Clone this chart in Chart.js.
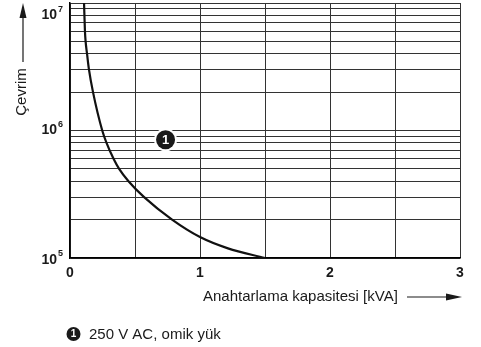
<!DOCTYPE html>
<html>
<head>
<meta charset="utf-8">
<script src="https://cdn.jsdelivr.net/npm/chart.js@4"></script>
<style>
  body { margin: 0; background: #fff; }
  canvas { display: block; }
</style>
</head>
<body>
<canvas id="myChart" width="481" height="347"></canvas>
<script>
// curve: switching capacity [kVA] vs cycles
var capacity = [0.108, 0.115, 0.12, 0.131, 0.146, 0.177, 0.248, 0.281, 0.335, 0.378, 0.45, 0.57, 0.785, 1.0, 1.215, 1.5];
var cycles = [1e7, 6e6, 5e6, 4e6, 3e6, 2e6, 1e6, 8e5, 6e5, 5e5, 4e5, 3e5, 2e5, 1.46e5, 1.19e5, 1e5];
var xTicks = [0, 1, 2, 3];
var yExps = [5, 6, 7];
var markerAt = [0.735, 8.45e5];
var yTitle = "Çevrim";
var xTitle = "Anahtarlama kapasitesi [kVA]";
var legendText = "250 V AC, omik yük";

var FONT = "'Liberation Sans', Arial, sans-serif";
var INK = "#1a1a1a";

function badge(ctx, x, y, r, fs){
  ctx.beginPath(); ctx.arc(x, y, r + 2, 0, Math.PI*2); ctx.fillStyle = "#fff"; ctx.fill();
  ctx.beginPath(); ctx.arc(x, y, r, 0, Math.PI*2); ctx.fillStyle = INK; ctx.fill();
  ctx.fillStyle = "#fff"; ctx.font = "bold " + fs + "px " + FONT;
  ctx.textAlign = "center"; ctx.textBaseline = "middle";
  ctx.fillText("1", x, y + 0.5);
}

var decor = {
  id: "decor",
  afterDraw: function(chart){
    var ctx = chart.ctx, xs = chart.scales.x, ys = chart.scales.y, a = chart.chartArea;
    ctx.save();
    ctx.fillStyle = INK;
    // x tick labels
    ctx.font = "bold 14px " + FONT; ctx.textAlign = "center"; ctx.textBaseline = "middle";
    xTicks.forEach(function(v){ ctx.fillText(String(v), xs.getPixelForValue(v), 273); });
    // y tick labels 10^n
    yExps.forEach(function(e){
      var py = Math.max(ys.getPixelForValue(Math.pow(10, e)), a.top + 12.5);
      if (e == 5) py += 2;
      ctx.font = "bold 14px " + FONT; ctx.textAlign = "right"; ctx.textBaseline = "middle";
      ctx.fillText("10", 57, py);
      ctx.font = "bold 9px " + FONT; ctx.textAlign = "left";
      ctx.fillText(String(e), 58, py - 6);
    });
    // y title + arrow
    ctx.save();
    ctx.translate(22, 92); ctx.rotate(-Math.PI/2);
    ctx.font = "15px " + FONT; ctx.textAlign = "center"; ctx.textBaseline = "middle";
    ctx.fillText(yTitle, 0, 0);
    ctx.restore();
    ctx.strokeStyle = INK; ctx.lineWidth = 1.2;
    ctx.beginPath(); ctx.moveTo(23, 62); ctx.lineTo(23, 16); ctx.stroke();
    ctx.beginPath(); ctx.moveTo(23, 3); ctx.lineTo(19.5, 18); ctx.lineTo(26.5, 18); ctx.closePath(); ctx.fill();
    // x title + arrow
    ctx.font = "15px " + FONT; ctx.textAlign = "left"; ctx.textBaseline = "middle";
    ctx.fillText(xTitle, 203, 297);
    ctx.beginPath(); ctx.moveTo(407, 297); ctx.lineTo(450, 297); ctx.stroke();
    ctx.beginPath(); ctx.moveTo(462, 297); ctx.lineTo(446, 293.5); ctx.lineTo(446, 300.5); ctx.closePath(); ctx.fill();
    // marker on curve
    badge(ctx, xs.getPixelForValue(markerAt[0]), ys.getPixelForValue(markerAt[1]), 9.5, 13);
    // legend
    badge(ctx, 73.5, 334, 7, 10);
    ctx.fillStyle = INK; ctx.font = "15px " + FONT; ctx.textAlign = "left"; ctx.textBaseline = "middle";
    ctx.fillText(legendText, 89, 334.5);
    ctx.restore();
  }
};

var charts = document.querySelector("#myChart").getContext('2d');
new Chart(charts, {
  type: 'line',
  data: {
    datasets: [{
      data: capacity.map(function(v, i){ return {x: v, y: cycles[i]}; }),
      borderColor: '#111',
      borderWidth: 2.2,
      pointRadius: 0,
      cubicInterpolationMode: 'monotone',
      fill: false
    }]
  },
  options: {
    responsive: false,
    animation: false,
    layout: { padding: { left: 70, right: 21, top: 3, bottom: 89 } },
    plugins: { legend: { display: false }, tooltip: { enabled: false } },
    scales: {
      x: {
        type: 'linear', min: 0, max: 3,
        afterBuildTicks: function(s){ s.ticks = [0,0.5,1,1.5,2,2.5,3].map(function(v){ return {value: v}; }); },
        ticks: { display: false },
        grid: { color: '#333', lineWidth: 1, drawTicks: false },
        border: { color: '#000', width: 1.5 }
      },
      y: {
        type: 'logarithmic', min: 1e5, max: 1e7,
        afterBuildTicks: function(s){
          var t = [];
          [5, 6].forEach(function(e){ for (var m = 1; m < 10; m++) t.push({value: m * Math.pow(10, e)}); });
          t.push({value: 1e7});
          s.ticks = t;
        },
        ticks: { display: false },
        grid: { color: '#333', lineWidth: 1, drawTicks: false },
        border: { color: '#000', width: 1.5 }
      }
    }
  },
  plugins: [decor]
});
</script>
</body>
</html>
